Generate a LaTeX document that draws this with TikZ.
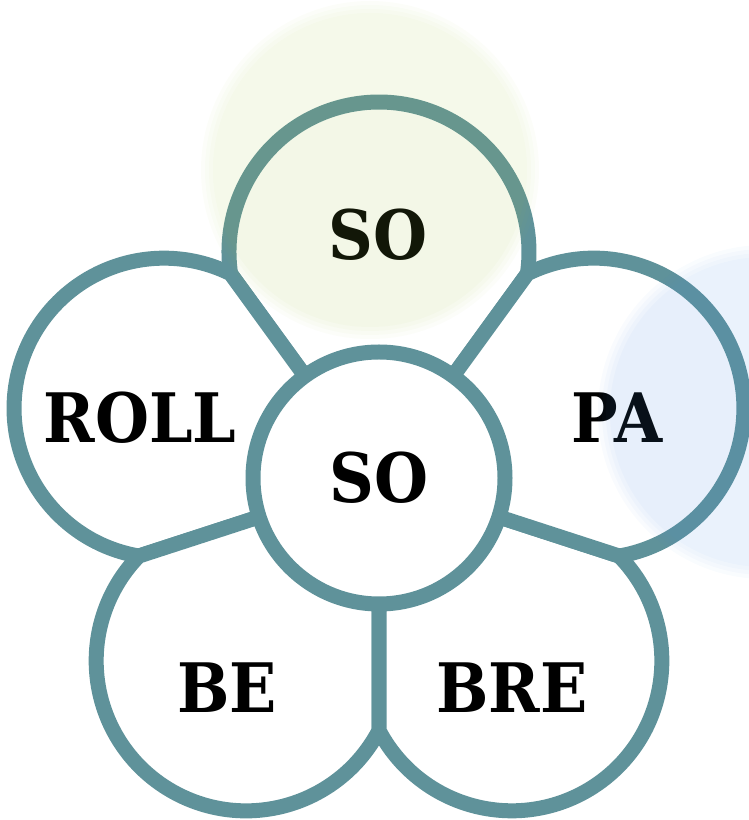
\documentclass[tikz,border=0pt]{standalone}
\usepackage{fontspec}
\setmainfont{DejaVu Serif}
\usepackage{tikz}
\definecolor{petalTeal}{HTML}{5F929A}
\definecolor{glowGreen}{HTML}{A6CC4A}
\definecolor{glowBlue}{HTML}{4A90E2}
\newcommand{\tallword}[1]{\scalebox{1}[1.1]{#1}}
\tikzstyle{petal} = [fill=white, draw=petalTeal, line width=15pt, line join=round]
\tikzstyle{hubcircle} = [circle, fill=white, draw=petalTeal, line width=15pt,
  minimum size=252pt, inner sep=0pt, font=\fontsize{62}{62}\selectfont\bfseries]
\tikzstyle{petallabel} = [font=\fontsize{62}{62}\selectfont\bfseries, text=black, inner sep=0pt]

\begin{document}
\begin{tikzpicture}[x=1pt, y=1pt]
  \useasboundingbox (0,0) rectangle (749,820);
  \coordinate (O) at (379,342);
  \coordinate (glowTop) at (370,650);
  \coordinate (glowRight) at (765,408);

  % Petal geometry: circle cut by two lines from the centre
  \pgfmathsetmacro{\pd}{226}
  \pgfmathsetmacro{\pr}{150}
  \pgfmathsetmacro{\tcut}{\pd*cos(36)+sqrt((\pr-\pd*sin(36))*(\pr+\pd*sin(36)))}
  \pgfmathsetmacro{\ea}{atan2(\tcut*cos(36)-\pd,\tcut*sin(36))}

  % Petals
  \foreach \ang in {0,72,144,216,288} {
    \begin{scope}[rotate around={\ang:(O)}]
      \filldraw[petal] (O) -- ++({-\tcut*sin(36)},{\tcut*cos(36)})
        arc[start angle={180-\ea}, end angle=\ea, radius=\pr] -- cycle;
    \end{scope}
  }

  % Centre
  \node[hubcircle] (hub) at (O) {\tallword{SO}};

  % Petal labels
  \node[petallabel] (top) at (378,585) {\tallword{SO}};
  \node[petallabel] (roll) at (140,402) {\tallword{ROLL}};
  \node[petallabel] (pa) at (617,402) {\tallword{PA}};
  \node[petallabel] (be) at (227,132) {\tallword{BE}};
  \node[petallabel] (bre) at (512,132) {\tallword{BRE}};

  % Soft glows
  \foreach \g in {-8,-4,0,4} {
    \fill[glowGreen, fill opacity=0.03] (glowTop) circle (165+\g);
    \fill[glowBlue, fill opacity=0.03] (glowRight) circle (163+\g);
  }
\end{tikzpicture}
\end{document}
